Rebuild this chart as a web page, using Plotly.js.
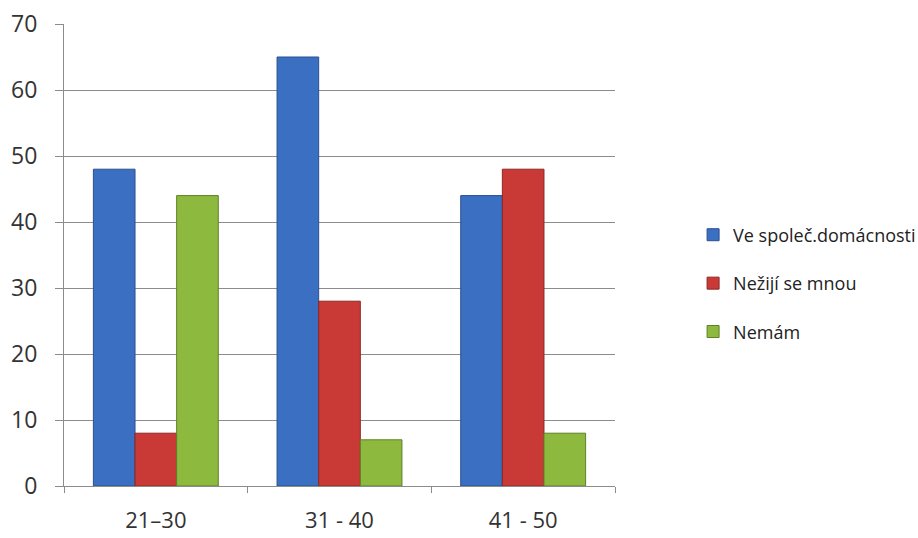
<!DOCTYPE html>
<html>
<head>
<meta charset="utf-8">
<script src="https://cdn.plot.ly/plotly-3.0.1.min.js"></script>
<style>html,body{margin:0;padding:0;background:#fff;}#chart{width:918px;height:538px;}</style>
</head>
<body>
<div id="chart"></div>
<script>
var categories = ["21\u201330", "31 - 40", "41 - 50"];
var seriesNames = ["Ve společ.domácnosti", "Nežijí se mnou", "Nemám"];
var spolecne = [48, 65, 44];
var nezijiSeMnou = [8, 28, 48];
var nemam = [44, 7, 8];
var yTicks = [0, 10, 20, 30, 40, 50, 60, 70];

var colors = ["#3b6fc2", "#c93a37", "#8dba3e"];
var lineColors = ["#2a5090", "#8e2624", "#5f7f28"];
var values = [spolecne, nezijiSeMnou, nemam];

var data = values.map(function (v, i) {
  return {
    type: "bar",
    x: categories,
    y: v,
    name: seriesNames[i],
    legendgroup: "g" + i,
    marker: {color: colors[i], line: {color: lineColors[i], width: 1}}
  };
});

var layout = {
  width: 918,
  height: 538,
  margin: {l: 64, r: 303, t: 24, b: 52, autoexpand: false},
  paper_bgcolor: "#ffffff",
  plot_bgcolor: "#ffffff",
  barmode: "group",
  bargap: 0.32,
  bargroupgap: 0,
  font: {family: "Open Sans, Liberation Sans, sans-serif", size: 18, color: "#404040"},
  xaxis: {
    type: "category",
    tickson: "boundaries",
    ticks: "outside",
    ticklen: 6,
    tickcolor: "#8c8c8c",
    showline: true,
    linecolor: "#8c8c8c",
    linewidth: 1,
    showgrid: false,
    tickfont: {size: 22, color: "#333333"},
    ticklabelstandoff: 15,
    automargin: false,
    fixedrange: true
  },
  yaxis: {
    range: [0, 70],
    tickvals: yTicks,
    ticks: "outside",
    ticklen: 8,
    tickcolor: "#8c8c8c",
    showline: true,
    linecolor: "#8c8c8c",
    linewidth: 1,
    showgrid: true,
    gridcolor: "#8c8c8c",
    gridwidth: 1,
    zeroline: false,
    tickfont: {size: 23, color: "#333333"},
    ticklabelstandoff: 13,
    automargin: false,
    fixedrange: true
  },
  showlegend: true,
  legend: {
    xref: "container",
    yref: "container",
    x: 0.755,
    xanchor: "left",
    y: 0.473,
    yanchor: "middle",
    traceorder: "grouped",
    tracegroupgap: 22,
    font: {size: 18, color: "#222222"},
    itemwidth: 30,
    bgcolor: "rgba(0,0,0,0)"
  }
};

Plotly.newPlot("chart", data, layout, {displayModeBar: false, staticPlot: true});
</script>
</body>
</html>
